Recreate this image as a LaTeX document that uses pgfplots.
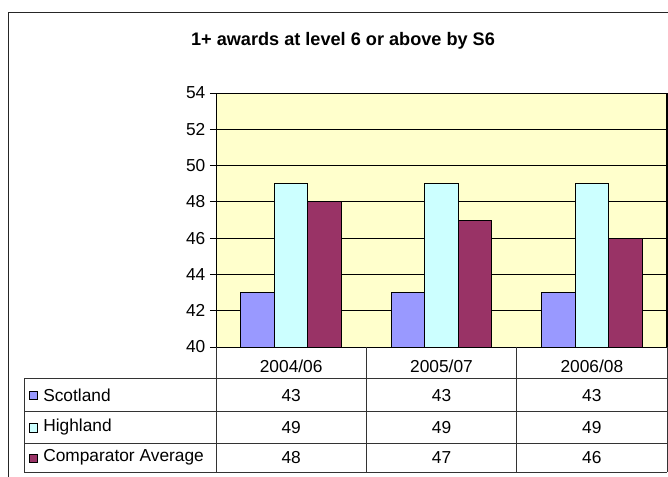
\documentclass[border=0pt]{standalone}
\usepackage{fontspec}
\setmainfont{Liberation Sans}
\usepackage{pgfplots}
\usepackage{pgfplotstable}
\pgfplotsset{compat=1.18}
\definecolor{scot}{HTML}{9999FF}
\definecolor{high}{HTML}{CCFFFF}
\definecolor{comp}{HTML}{993366}
\definecolor{plotbg}{HTML}{FFFFCC}

\pgfplotstableread{
x Scotland Highland Comparator
0 43 49 48
1 43 49 47
2 43 49 46
}\awards

\begin{document}
% picture units: 1 unit = 1 px of the reference, y downwards
\begin{tikzpicture}[x=0.75pt,y=-0.75pt,font=\fontsize{13}{15}\selectfont]
\begin{axis}[
  at={(162pt,-260.25pt)},anchor=south west,
  width=338.25pt,height=190.5pt,scale only axis,
  xmin=-0.5,xmax=2.5,ymin=40,ymax=54,
  ytick={40,42,...,54},
  xtick={0,1,2},
  xticklabels={2004/06,2005/07,2006/08},
  xtick style={draw=none},
  xticklabel style={yshift=-2pt},
  ytick pos=left,
  tick align=outside,
  major tick length=4.5pt,
  ymajorgrids,
  grid style={black,line width=0.75pt},
  axis line style={black,line width=0.75pt},
  ytick style={black,line width=0.75pt},
  axis background/.style={fill=plotbg},
  tick label style={font=\fontsize{13}{15}\selectfont},
  /pgf/number format/assume math mode=true,
  ybar=0pt,
  bar width=0.2229,
  every axis plot/.append style={draw=black,line width=0.75pt},
]
  \addplot[fill=scot] table[x=x,y=Scotland] {\awards};
  \addplot[fill=high] table[x=x,y=Highland] {\awards};
  \addplot[fill=comp] table[x=x,y=Comparator] {\awards};
\end{axis}

% title
\node[font=\bfseries\fontsize{13.6}{16}\selectfont] at (343,41) {1+ awards at level 6 or above by S6};

% outer chart border (left and top visible)
\draw[line width=0.75pt,black!85] (8,490) -- (8,13) -- (690,13);

% data table grid
\draw[line width=0.75pt,black!80]
  (24,379) -- (667,379)
  (24,412) -- (667,412)
  (24,443) -- (667,443)
  (24,472) -- (667,472)
  (24,379) -- (24,472)
  (216,347) -- (216,472)
  (366.3,347) -- (366.3,472)
  (516.7,347) -- (516.7,472)
  (667,347) -- (667,472);

% legend keys and series names
\filldraw[fill=scot,draw=black,line width=0.75pt] (29,392) rectangle (37,400);
\filldraw[fill=high,draw=black,line width=0.75pt] (29,424) rectangle (37,432);
\filldraw[fill=comp,draw=black,line width=0.75pt] (29,454) rectangle (37,462);
\node[anchor=west,inner sep=0pt] at (43,395.5) {Scotland};
\node[anchor=west,inner sep=0pt] at (43,427.5) {Highland};
\node[anchor=west,inner sep=0pt] at (43,457.5) {Comparator Average};

% table values from the data table
\foreach \r/\xc in {0/291.2,1/441.5,2/591.8}{
  \pgfplotstablegetelem{\r}{Scotland}\of\awards
  \node at (\xc,395.5) {\pgfplotsretval};
  \pgfplotstablegetelem{\r}{Highland}\of\awards
  \node at (\xc,427.5) {\pgfplotsretval};
  \pgfplotstablegetelem{\r}{Comparator}\of\awards
  \node at (\xc,457.5) {\pgfplotsretval};
}

\pgfresetboundingbox
\path[use as bounding box] (0,0) rectangle (668,477);
\end{tikzpicture}
\end{document}
